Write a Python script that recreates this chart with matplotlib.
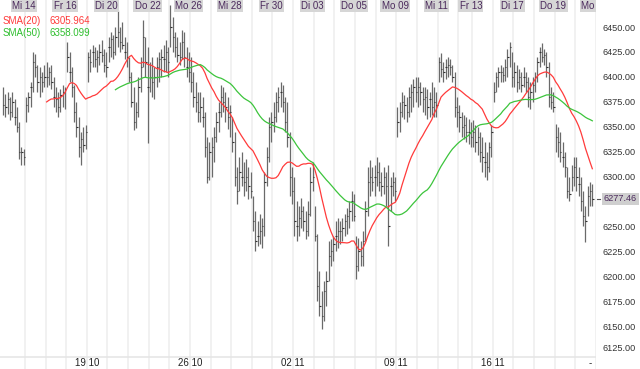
import matplotlib
matplotlib.use('Agg')
import matplotlib.pyplot as plt
import matplotlib.transforms as mtransforms
import pandas as pd

plt.rcParams['font.family'] = ['Liberation Sans', 'DejaVu Sans']

# Hourly bars (high, low, close)
high = [6390, 6383, 6385, 6380, 6385, 6378, 6370, 6355, 6330, 6328,
        6380, 6385, 6395, 6425, 6423, 6412, 6410, 6405, 6412,
        6415, 6410, 6412, 6400, 6390, 6385, 6388, 6392, 6390,
        6435, 6425, 6410, 6392, 6375, 6360, 6345, 6350, 6352,
        6425, 6428, 6432, 6430, 6427, 6433, 6437, 6428, 6425,
        6440, 6445, 6442, 6450, 6467, 6450, 6455, 6440, 6435,
        6420, 6405, 6390, 6375, 6400, 6420, 6457, 6440, 6430,
        6415, 6420, 6410, 6420, 6425, 6428, 6432, 6437, 6430,
        6472, 6460, 6445, 6440, 6435, 6447, 6445, 6430, 6425,
        6420, 6405, 6395, 6385, 6385, 6380, 6365, 6340, 6335,
        6340, 6350, 6365, 6375, 6392, 6390, 6385, 6380, 6372,
        6360, 6345, 6310, 6320, 6325, 6315, 6318, 6310, 6305,
        6280, 6265, 6255, 6262, 6258, 6305, 6330, 6360, 6365,
        6375, 6385, 6390, 6395, 6392, 6380, 6375, 6345, 6310,
        6300, 6275, 6270, 6278, 6270, 6265, 6275, 6310, 6315,
        6270, 6242, 6205, 6185, 6195, 6205, 6235, 6237, 6240,
        6255, 6258, 6255, 6258, 6262, 6268, 6275, 6285, 6282,
        6240, 6238, 6235, 6245, 6275, 6310, 6317, 6310, 6312,
        6320, 6315, 6305, 6310, 6305, 6312, 6300, 6305, 6300,
        6370, 6375, 6385, 6382, 6380, 6390, 6393, 6398, 6400,
        6400, 6395, 6390, 6390, 6388, 6385, 6395, 6390, 6385,
        6420, 6424, 6415, 6418, 6420, 6418, 6412, 6405, 6380,
        6372, 6365, 6362, 6360, 6358, 6355,
        6357, 6352, 6350, 6345, 6340, 6335, 6325, 6335, 6352,
        6395, 6405, 6410, 6412, 6410, 6418, 6428, 6435, 6425,
        6415, 6412, 6408, 6405, 6410, 6405, 6400, 6395, 6400,
        6405, 6420, 6430, 6434, 6428, 6425, 6415, 6390, 6385,
        6353, 6350, 6345, 6335, 6325, 6310, 6300, 6312, 6320,
        6320, 6310, 6300, 6285, 6270, 6290, 6295, 6292]
low = [6362, 6360, 6363, 6357, 6360, 6352, 6345, 6318, 6312, 6312,
       6355, 6365, 6370, 6385, 6400, 6385, 6380, 6385, 6390,
       6390, 6392, 6388, 6370, 6365, 6360, 6365, 6370, 6368,
       6405, 6395, 6380, 6355, 6340, 6320, 6312, 6325, 6328,
       6395, 6405, 6410, 6410, 6405, 6412, 6415, 6405, 6400,
       6415, 6420, 6418, 6422, 6430, 6425, 6428, 6418, 6410,
       6395, 6370, 6347, 6349, 6360, 6385, 6410, 6400, 6334,
       6385, 6380, 6378, 6390, 6395, 6400, 6405, 6405, 6400,
       6430, 6425, 6420, 6415, 6412, 6418, 6410, 6400, 6395,
       6385, 6370, 6365, 6355, 6355, 6350, 6320, 6294, 6297,
       6300, 6315, 6335, 6345, 6360, 6365, 6355, 6348, 6340,
       6325, 6290, 6272, 6285, 6290, 6280, 6285, 6277, 6278,
       6245, 6225, 6230, 6232, 6228, 6240, 6290, 6315, 6335,
       6345, 6355, 6365, 6370, 6365, 6345, 6330, 6280, 6272,
       6240, 6235, 6240, 6248, 6245, 6237, 6240, 6260, 6285,
       6235, 6175, 6160, 6147, 6155, 6170, 6195, 6210, 6215,
       6225, 6228, 6232, 6235, 6240, 6242, 6248, 6255, 6255,
       6197, 6205, 6210, 6210, 6235, 6260, 6280, 6285, 6280,
       6290, 6285, 6280, 6282, 6270, 6230, 6265, 6280, 6275,
       6340, 6345, 6360, 6358, 6355, 6360, 6365, 6370, 6375,
       6370, 6372, 6365, 6362, 6358, 6360, 6362, 6360, 6360,
       6395, 6400, 6395, 6398, 6400, 6402, 6395, 6360, 6350,
       6345, 6340, 6338, 6335, 6333, 6330,
       6330, 6325, 6322, 6315, 6305, 6300, 6297, 6305, 6320,
       6375, 6385, 6390, 6395, 6395, 6396, 6400, 6410, 6390,
       6390, 6385, 6388, 6385, 6390, 6385, 6370, 6368, 6375,
       6385, 6395, 6410, 6415, 6412, 6400, 6370, 6368, 6365,
       6325, 6320, 6315, 6310, 6300, 6278, 6275, 6285, 6290,
       6285, 6280, 6265, 6250, 6234, 6260, 6270, 6270]
close = [6372, 6370, 6378, 6365, 6375, 6360, 6350, 6325, 6325, 6320,
         6372, 6380, 6390, 6415, 6410, 6395, 6400, 6395, 6400,
         6400, 6405, 6395, 6380, 6378, 6370, 6382, 6385, 6388,
         6420, 6405, 6390, 6365, 6350, 6330, 6338, 6332, 6345,
         6420, 6415, 6425, 6418, 6420, 6425, 6422, 6412, 6410,
         6430, 6438, 6425, 6440, 6445, 6435, 6432, 6425, 6420,
         6400, 6375, 6355, 6365, 6390, 6410, 6440, 6415, 6390,
         6400, 6395, 6400, 6410, 6418, 6420, 6418, 6425, 6415,
         6450, 6440, 6430, 6422, 6420, 6435, 6420, 6410, 6405,
         6395, 6380, 6375, 6365, 6370, 6360, 6330, 6300, 6325,
         6330, 6340, 6355, 6365, 6380, 6375, 6370, 6360, 6365,
         6335, 6300, 6285, 6305, 6300, 6295, 6300, 6290, 6285,
         6255, 6235, 6240, 6245, 6250, 6295, 6320, 6350, 6355,
         6360, 6375, 6380, 6385, 6375, 6355, 6340, 6300, 6285,
         6255, 6250, 6258, 6265, 6255, 6245, 6262, 6295, 6300,
         6240, 6190, 6170, 6160, 6185, 6195, 6220, 6225, 6232,
         6240, 6245, 6245, 6248, 6255, 6260, 6265, 6275, 6260,
         6210, 6225, 6220, 6235, 6265, 6295, 6300, 6295, 6300,
         6305, 6295, 6290, 6300, 6290, 6250, 6290, 6295, 6285,
         6355, 6365, 6375, 6372, 6365, 6380, 6385, 6390, 6385,
         6390, 6385, 6378, 6380, 6370, 6378, 6370, 6375, 6372,
         6415, 6408, 6405, 6410, 6412, 6410, 6400, 6370, 6365,
         6360, 6350, 6352, 6345, 6345, 6340,
         6345, 6335, 6340, 6325, 6320, 6315, 6310, 6330, 6345,
         6385, 6400, 6405, 6405, 6402, 6410, 6420, 6430, 6400,
         6405, 6395, 6400, 6392, 6400, 6395, 6380, 6385, 6392,
         6400, 6415, 6425, 6420, 6422, 6410, 6380, 6375, 6370,
         6340, 6335, 6325, 6320, 6310, 6285, 6282, 6300, 6310,
         6300, 6292, 6275, 6260, 6255, 6280, 6285, 6277.46]

# First bar of each trading day and its names
day_start = [10, 19, 28, 37, 46, 55, 64, 73, 82, 91, 100, 109, 118, 127,
             136, 145, 154, 163, 172, 181, 190, 199, 205, 214, 223, 232,
             241, 250, 259]
top_labels = ['Mi 14', 'Fr 16', 'Di 20', 'Do 22', 'Mo 26', 'Mi 28', 'Fr 30',
              'Di 03', 'Do 05', 'Mo 09', 'Mi 11', 'Fr 13', 'Di 17', 'Do 19',
              'Mo 23']
top_label_start = [10, 28, 46, 64, 82, 100, 118, 136, 154, 172, 190, 205,
                   223, 241, 259]
bottom_labels = ['19 10', '26 10', '02 11', '09 11', '16 11', '-']
bottom_label_start = [37, 82, 127, 172, 214, 256.5]

# 6275.00 sits behind the last-price box, so it is left out
price_ticks = [6125, 6150, 6175, 6200, 6225, 6250, 6300, 6325, 6350,
               6375, 6400, 6425, 6450]
last_price = '6277.46'
sma20_text = '6305.964'
sma50_text = '6358.099'

purple = '#4b2a5c'

fig = plt.figure(figsize=(6.4, 3.69), dpi=100)
ax = fig.add_axes([0, 0, 596 / 640, 1])
ax.set_xlim(-1.35, 258.6)
ax.set_ylim(6106.9, 6477.1)

# Day separators
for s in day_start:
    ax.axvline(s - 0.5, color='#f0f0f0', lw=1.3, zorder=0)
# Line above the date row
ax.axhline(6118.9, color='#e6e6e6', lw=1.2, zorder=0)

# OHLC bars (close tick only)
idx = list(range(len(close)))
ax.vlines(idx, low, high, color='#6a6a6a', lw=0.9, zorder=2)
ax.hlines(close, [i - 0.05 for i in idx], [i + 0.55 for i in idx],
          color='#333333', lw=0.8, zorder=3)

# Moving averages
closes = pd.Series(close)
sma20 = closes.rolling(20).mean()
sma50 = closes.rolling(50).mean()
ax.plot(idx, sma20, color='#ff3b3b', lw=0.9, zorder=4)
ax.plot(idx, sma50, color='#3cc43c', lw=0.9, zorder=4)

# Legend text
ax.text(3 / 596, 1 - 21 / 369, 'SMA(20)', transform=ax.transAxes, color='#ff3b3b',
        fontsize=7, va='center', ha='left')
ax.text(50 / 596, 1 - 21 / 369, sma20_text, transform=ax.transAxes, color='#ff3b3b',
        fontsize=7, va='center', ha='left')
ax.text(3 / 596, 1 - 33 / 369, 'SMA(50)', transform=ax.transAxes, color='#2fbf2f',
        fontsize=7, va='center', ha='left')
ax.text(50 / 596, 1 - 33 / 369, sma50_text, transform=ax.transAxes, color='#2fbf2f',
        fontsize=7, va='center', ha='left')

# Day names on top
trans_top = mtransforms.blended_transform_factory(ax.transData, ax.transAxes)
for lab, s in zip(top_labels, top_label_start):
    ax.text(s - 1.0, 1 - 6 / 369, lab, transform=trans_top, color=purple,
            fontsize=7, ha='center', va='center', clip_on=True,
            bbox=dict(boxstyle='square,pad=0.12', fc='#d6d6d6', ec='none'))

# Dates at the bottom
for lab, s in zip(bottom_labels, bottom_label_start):
    ax.text(s - 0.5, 6 / 369, lab, transform=trans_top, color='#222222',
            fontsize=7, ha='center', va='center')

# Price axis on the right
ax.yaxis.tick_right()
ax.set_yticks(price_ticks)
ax.set_yticklabels(['%.2f' % p for p in price_ticks])
ax.tick_params(axis='y', length=0, pad=5, labelsize=6.6, labelcolor='#333333')
# lowest label is nudged up a little, as in the source
low_lab = ax.get_yticklabels()[0]
low_lab.set_transform(low_lab.get_transform() +
                      mtransforms.ScaledTranslation(0, 3 / 100, fig.dpi_scale_trans))
ax.set_xticks([])
for sp in ax.spines.values():
    sp.set_visible(False)

# Last price marker
trans_right = mtransforms.blended_transform_factory(ax.transAxes, ax.transData)
ax.text(1 + 8 / 596, float(last_price), last_price, transform=trans_right,
        color=purple, fontsize=6.6, ha='left', va='center', zorder=10,
        bbox=dict(boxstyle='square,pad=0.2', fc='#cfcfcf', ec='none'))
ax.plot([1 + 1 / 596, 1 + 4 / 596], [float(last_price)] * 2, transform=trans_right,
        color='#555555', lw=0.8, clip_on=False)

fig.savefig('out.png', dpi=100)
